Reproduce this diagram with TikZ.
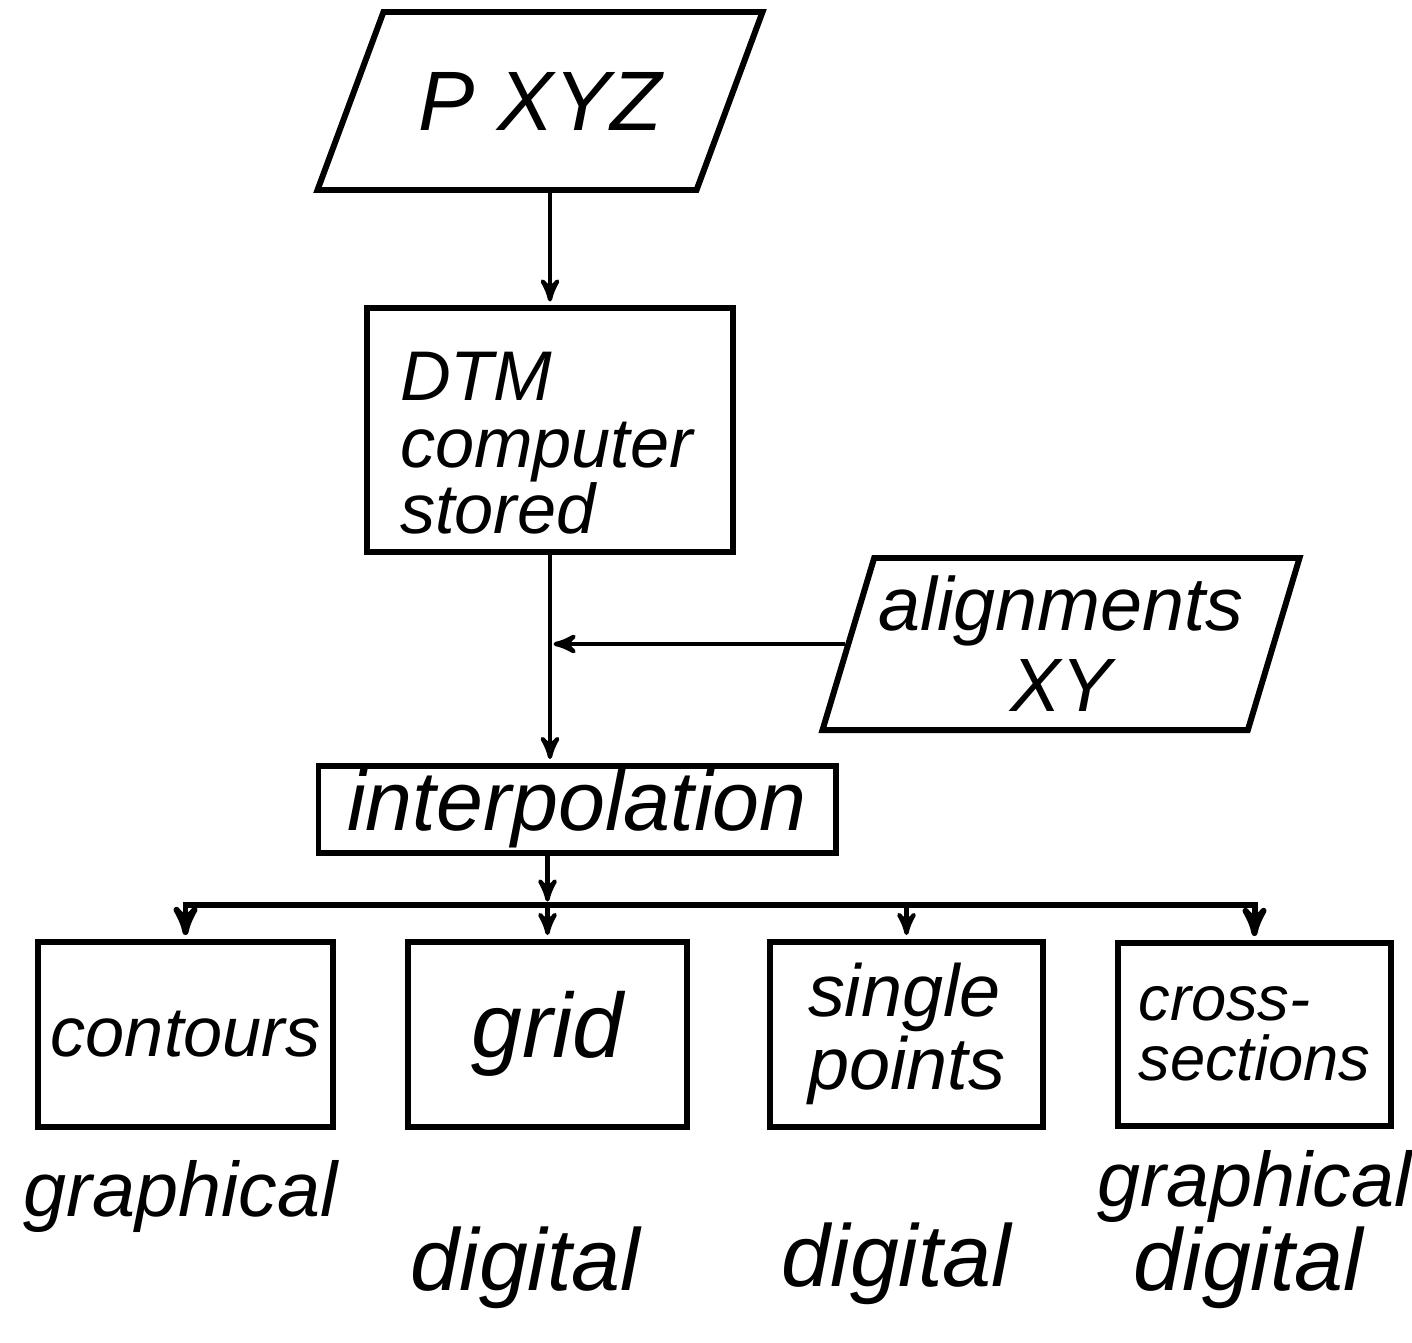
\documentclass[tikz,border=0pt]{standalone}
\usepackage{fontspec}
\setmainfont{Liberation Sans}
\usetikzlibrary{arrows, shapes, positioning}

\begin{document}
\begin{tikzpicture}[->,>=stealth',shorten >=1pt,auto,node distance=3.6cm,
 line width=1.2pt,
 box/.style={rectangle,draw,line width=1.7pt,font=\fontsize{20}{19}\selectfont\itshape},
 data/.style={trapezium,draw,line width=1.7pt,trapezium stretches body,align=center},
 note/.style={font=\fontsize{22}{22}\selectfont\itshape},
 notebig/.style={font=\fontsize{25}{25}\selectfont\itshape}]

  \useasboundingbox (0,0) rectangle (14.12,-13.42);

  % input data and storage
  \node[data, trapezium left angle=51, trapezium right angle=129,
        minimum width=4.45cm, minimum height=1.78cm,
        font=\fontsize{24}{24}\selectfont\itshape] (pxyz) at (5.4,-1.01) {P XYZ};
  \node[box, align=left, text width=3.0cm, inner xsep=0.33cm, minimum height=2.44cm]
        (dtm) [below of=pxyz, node distance=3.29cm, xshift=0.1cm] {\rule{0pt}{0.75cm}DTM\\computer\\stored};
  \node[box, minimum width=5.17cm, minimum height=0.87cm, inner sep=0pt,
        font=\fontsize{24}{24}\selectfont\itshape]
        (interp) [below of=dtm, node distance=3.79cm, xshift=0.27cm] {interpolation};
  \node[data, trapezium left angle=72, trapezium right angle=108,
        minimum width=4.77cm, minimum height=1.72cm, inner xsep=0pt,
        font=\fontsize{21.5}{23}\selectfont\itshape]
        (align) [right of=dtm, node distance=5.11cm, yshift=-2.14cm] {alignments\\XY};

  % products
  \node[box, minimum width=2.79cm, minimum height=1.85cm, font=\fontsize{26}{26}\selectfont\itshape]
        (grid) [below of=interp, node distance=2.25cm, xshift=-0.295cm] {grid};
  \node[box, minimum width=2.95cm, minimum height=1.85cm] (contours) [left of=grid, node distance=3.62cm] {contours};
  \node[box, minimum width=2.73cm, minimum height=1.85cm, align=left, font=\fontsize{21}{19}\selectfont\itshape]
        (single) [right of=grid, node distance=3.59cm] {single\\points};
  \node[box, minimum width=2.73cm, minimum height=1.83cm, align=left, font=\fontsize{18}{17}\selectfont\itshape]
        (cross) [right of=single, node distance=3.48cm] {cross-\\sections};
  \coordinate[below of=interp, node distance=0.96cm, xshift=-0.295cm] (split);

  \node[note] (contoursout) [below of=contours, node distance=1.62cm, xshift=-0.05cm] {graphical};
  \node[notebig] (gridout) [below of=grid, node distance=2.34cm, xshift=-0.22cm] {digital};
  \node[notebig] (singleout) [below of=single, node distance=2.3cm, xshift=-0.1cm] {digital};
  \node[note] (crossout) [below of=cross, node distance=1.52cm] {graphical};
  \node[notebig] (crossdig) [below of=cross, node distance=2.34cm, xshift=-0.06cm] {digital};

  \path[draw] (pxyz.south -| dtm.north) -- (dtm.north);
  \path[draw] (dtm.south) -- (dtm.south |- interp.north);
  \path[draw] (align.west) -- (align.west -| dtm.south);
  \path[draw] (interp.south -| split) -- (split);
  \foreach \b in {contours, cross} {
   \path[draw, line width=1.7pt] (split) -| (\b);}
  \foreach \b in {grid, single} {
   \path[draw] (split -| \b) -- (\b);}

\end{tikzpicture}
\end{document}
